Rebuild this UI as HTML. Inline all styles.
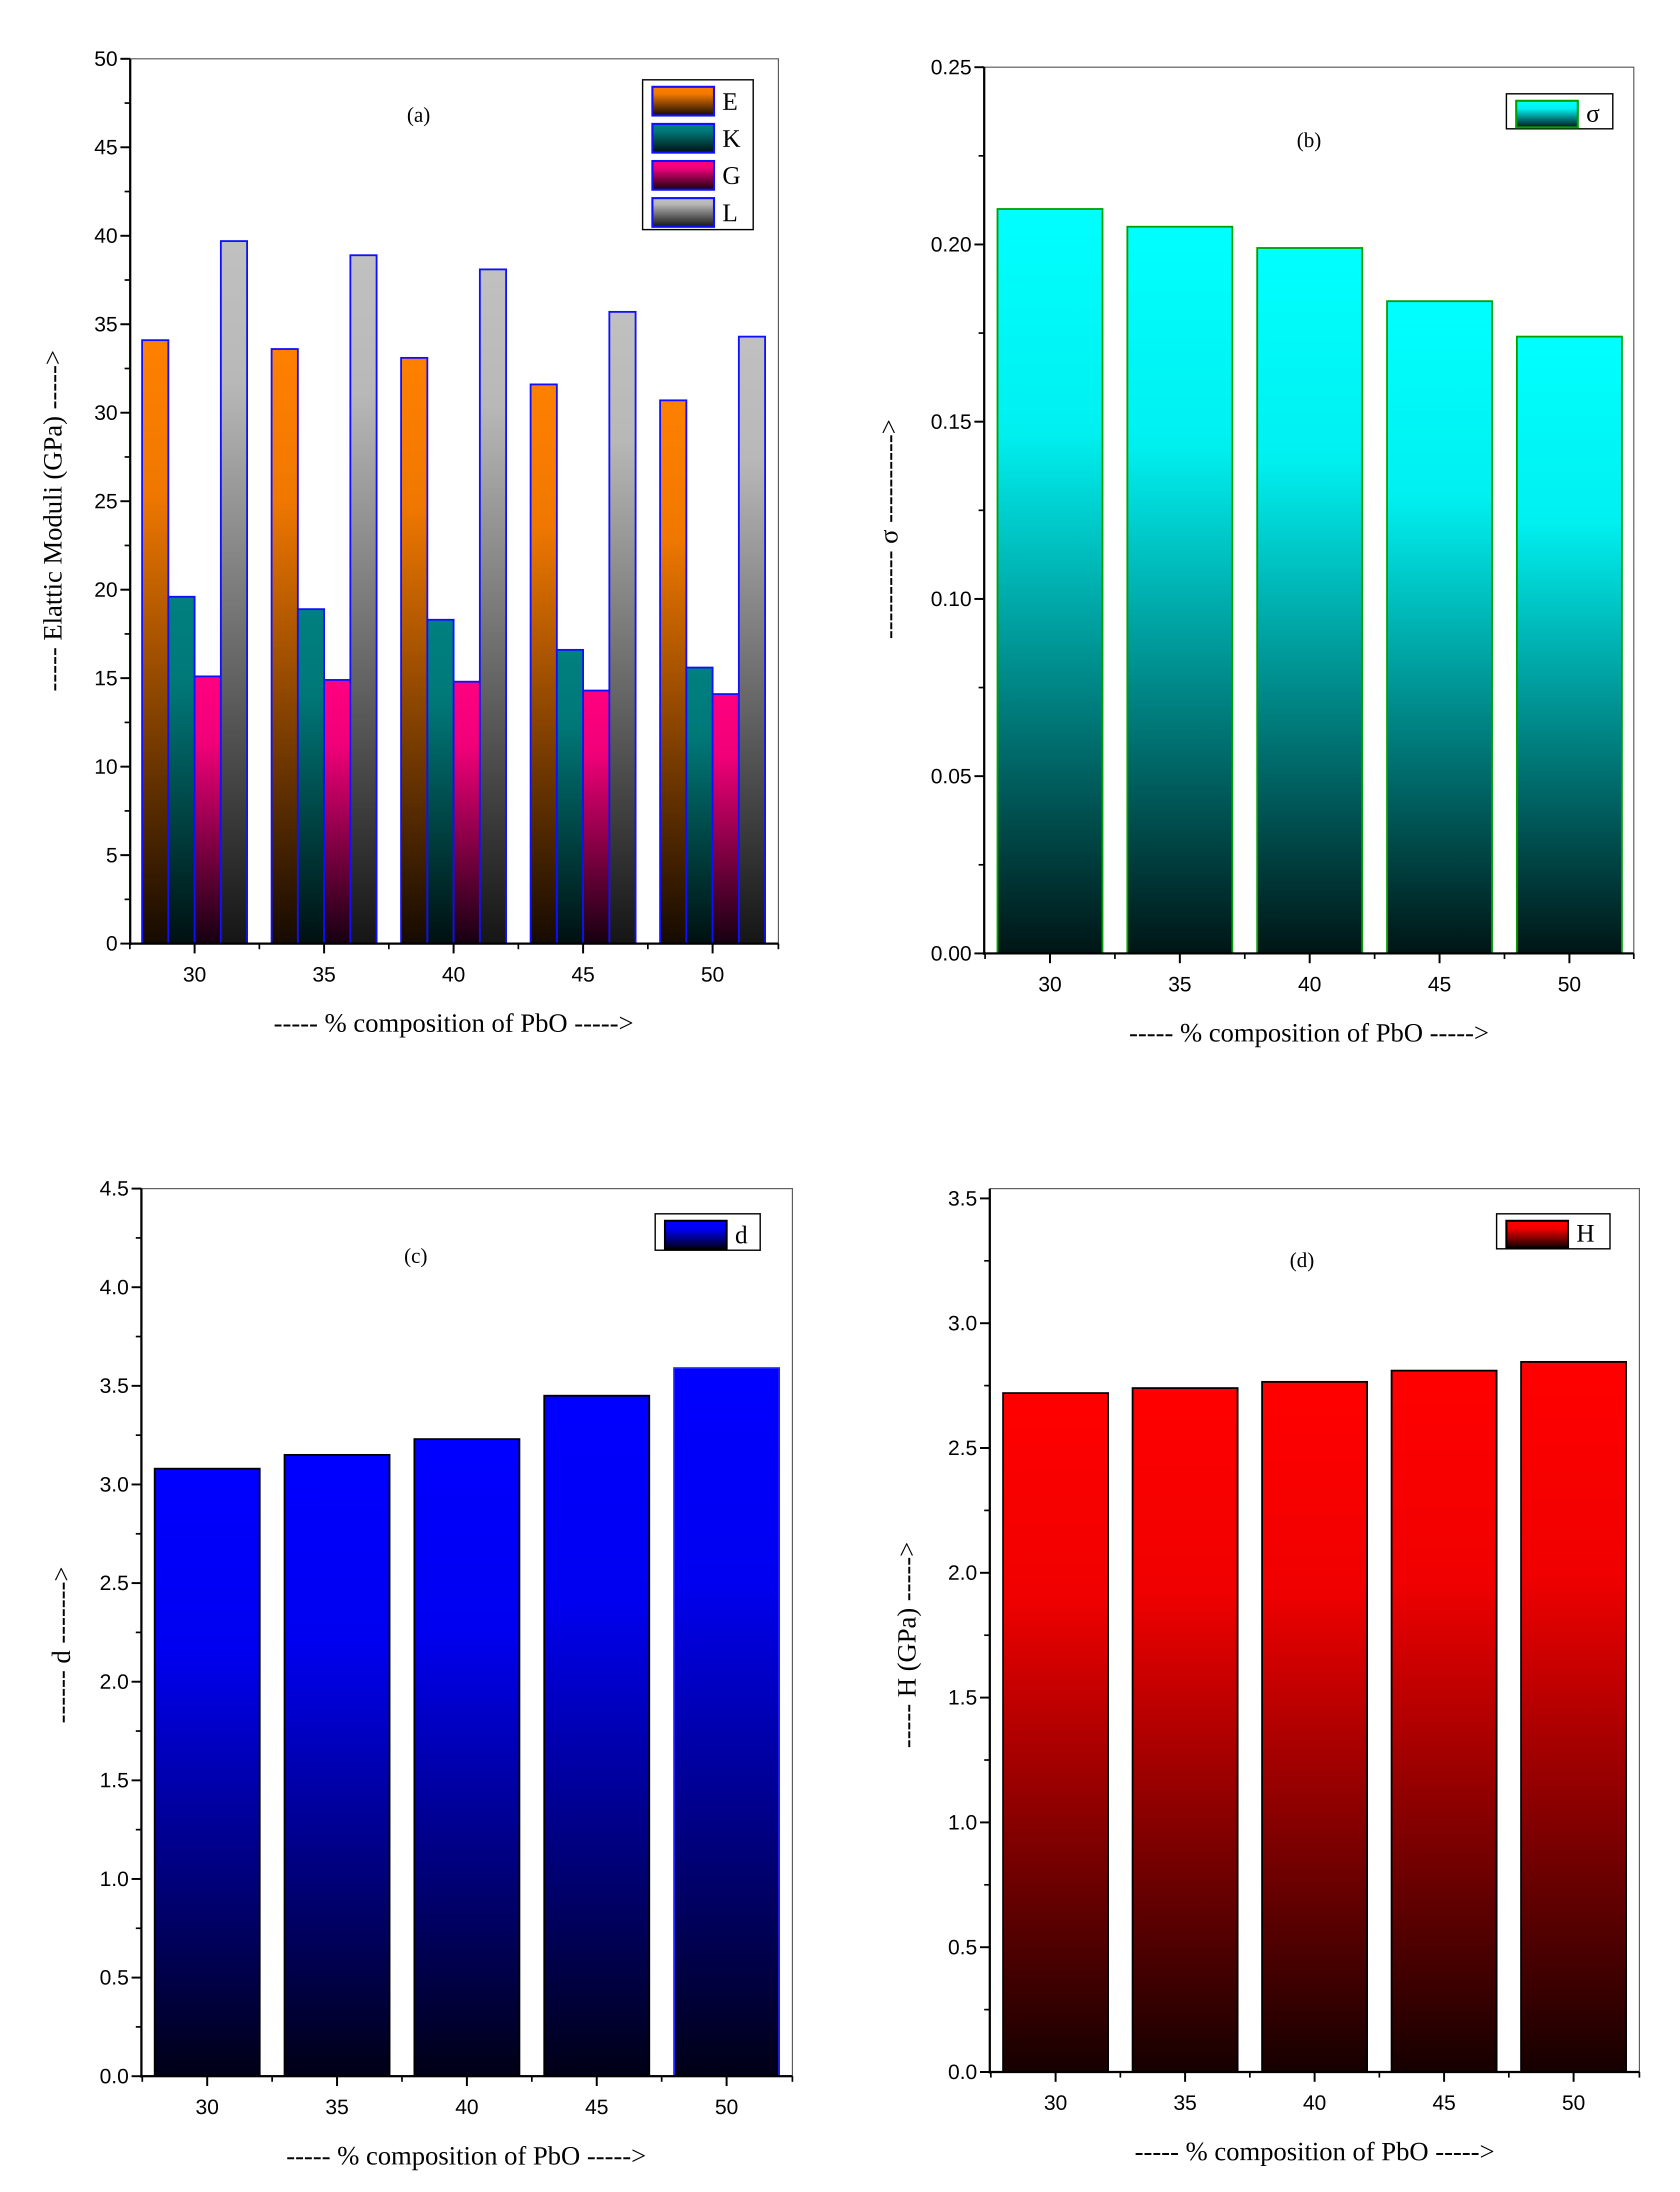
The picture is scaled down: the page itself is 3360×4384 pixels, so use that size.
<!DOCTYPE html>
<html><head><meta charset="utf-8">
<style>html,body{margin:0;padding:0;background:#fff}svg{display:block}</style>
</head><body>
<svg id="root" xmlns="http://www.w3.org/2000/svg" width="3360" height="4384" viewBox="0 0 1200 1565.7">
<defs>
<linearGradient id="gE" x1="0" y1="0" x2="0" y2="1"><stop offset="0" stop-color="#ff8000"/><stop offset="0.25" stop-color="#f07800"/><stop offset="1" stop-color="#150a00"/></linearGradient>
<linearGradient id="gK" x1="0" y1="0" x2="0" y2="1"><stop offset="0" stop-color="#008080"/><stop offset="0.25" stop-color="#007878"/><stop offset="1" stop-color="#001010"/></linearGradient>
<linearGradient id="gG" x1="0" y1="0" x2="0" y2="1"><stop offset="0" stop-color="#ff0080"/><stop offset="0.25" stop-color="#f00078"/><stop offset="1" stop-color="#150010"/></linearGradient>
<linearGradient id="gL" x1="0" y1="0" x2="0" y2="1"><stop offset="0" stop-color="#c0c0c0"/><stop offset="0.2" stop-color="#b8b8b8"/><stop offset="1" stop-color="#151515"/></linearGradient>
<linearGradient id="gS" x1="0" y1="0" x2="0" y2="1"><stop offset="0" stop-color="#00ffff"/><stop offset="0.3" stop-color="#00f0f0"/><stop offset="1" stop-color="#001515"/></linearGradient>
<linearGradient id="gD" x1="0" y1="0" x2="0" y2="1"><stop offset="0" stop-color="#0000ff"/><stop offset="0.3" stop-color="#0000f0"/><stop offset="1" stop-color="#000015"/></linearGradient>
<linearGradient id="gH" x1="0" y1="0" x2="0" y2="1"><stop offset="0" stop-color="#ff0000"/><stop offset="0.3" stop-color="#f00000"/><stop offset="1" stop-color="#150000"/></linearGradient>
</defs>
</svg>
<script>
const categories = [30, 35, 40, 45, 50];
const seriesE = [34.1, 33.6, 33.1, 31.6, 30.7];
const seriesK = [19.6, 18.9, 18.3, 16.6, 15.6];
const seriesG = [15.1, 14.9, 14.8, 14.3, 14.1];
const seriesL = [39.7, 38.9, 38.1, 35.7, 34.3];
const seriesSigma = [0.21, 0.205, 0.199, 0.184, 0.174];
const seriesD = [3.08, 3.15, 3.23, 3.45, 3.59];
const seriesH = [2.72, 2.74, 2.765, 2.81, 2.845];
const ticksA = [0, 5, 10, 15, 20, 25, 30, 35, 40, 45, 50];
const ticksB = [0, 0.05, 0.10, 0.15, 0.20, 0.25];
const ticksC = [0, 0.5, 1.0, 1.5, 2.0, 2.5, 3.0, 3.5, 4.0, 4.5];
const ticksD = [0, 0.5, 1.0, 1.5, 2.0, 2.5, 3.0, 3.5];

const NS = 'http://www.w3.org/2000/svg';
const root = document.getElementById('root');
const SERIF = 'font-family:"Liberation Serif",serif';
const SANS = 'font-family:"Liberation Sans",sans-serif';
function mk(tag, attrs, parent, text) {
  const e = document.createElementNS(NS, tag);
  for (const k in attrs) e.setAttribute(k, attrs[k]);
  if (text !== undefined) e.textContent = text;
  (parent || root).appendChild(e);
  return e;
}

function panel(cfg) {
  const g = mk('g', {});
  
  
  const {x0, x1, yTop, y0, yMaxVal, ymax, ticks, dec} = cfg;
  const ys = v => y0 - (v / ymax) * (y0 - yMaxVal);
  const c0 = cfg.c30, c1 = cfg.c50;
  const xs = c => c0 + (c - 30) / 20 * (c1 - c0);
  const step = (c1 - c0) / 4;
  const nS = cfg.series.length;
  const gw = cfg.groupW;
  cfg.series.forEach((s, si) => {
    const bw = gw / nS;
    s.vals.forEach((v, i) => {
      const bx = xs(categories[i]) - gw / 2 + si * bw;
      const r = mk('rect', {x: bx, y: ys(v), width: bw, height: y0 - ys(v), fill: 'url(#' + s.grad + ')', stroke: (s.strokes ? s.strokes[i] : s.stroke), 'stroke-width': 1.3}, g);
      
      
    });
  });
  const fr = mk('polyline', {points: `${x0},${yTop} ${x1},${yTop} ${x1},${y0}`, fill: 'none', stroke: '#555', 'stroke-width': 0.8}, g);
  
  
  const ya = mk('line', {x1: x0, y1: yTop, x2: x0, y2: y0 + 1, stroke: '#000', 'stroke-width': 1.6}, g);
  
  
  ticks.forEach((t, i) => {
    mk('line', {x1: x0 - 7, y1: ys(t), x2: x0, y2: ys(t), stroke: '#000', 'stroke-width': 1.4}, g);
    if (i < ticks.length - 1) {
      const m = (t + ticks[i + 1]) / 2;
      mk('line', {x1: x0 - 4, y1: ys(m), x2: x0, y2: ys(m), stroke: '#000', 'stroke-width': 1.2}, g);
    }
    const lb = mk('text', {x: x0 - 9, y: ys(t) + 5, 'text-anchor': 'end', style: SANS + ';font-size:15px'}, g, t.toFixed(dec));
    
    
  });
  const xa = mk('line', {x1: x0, y1: y0, x2: x1, y2: y0, stroke: '#000', 'stroke-width': 1.6}, g);
  
  
  categories.forEach((c, i) => {
    mk('line', {x1: xs(c), y1: y0, x2: xs(c), y2: y0 + 7, stroke: '#000', 'stroke-width': 1.4}, g);
    const lb = mk('text', {x: xs(c), y: y0 + 27, 'text-anchor': 'middle', style: SANS + ';font-size:15px'}, g, String(c));
    
    
  });
  for (let i = 0; i <= 4; i++) {
    const mx = xs(categories[0]) - step / 2 + i * step;
    mk('line', {x1: mx, y1: y0, x2: mx, y2: y0 + 4, stroke: '#000', 'stroke-width': 1.2}, g);
  }
  mk('line', {x1: x1, y1: y0, x2: x1, y2: y0 + 4, stroke: '#000', 'stroke-width': 1.2}, g);
  const xt = mk('text', {x: cfg.xtX, y: cfg.xtY, 'text-anchor': 'middle', style: SERIF + ';font-size:19px'}, g, '----- % composition of PbO ----->');
  
  
  const yt = mk('text', {x: 0, y: 0, 'text-anchor': 'middle', style: SERIF + ';font-size:19px', transform: `translate(${cfg.ytX},${cfg.ytY}) rotate(-90)`}, g, cfg.ytText);
  
  
  const pl = mk('text', {x: cfg.plX, y: cfg.plY, 'text-anchor': 'middle', style: SERIF + ';font-size:15px'}, g, cfg.plText);
  
  
  const L = cfg.legend;
  const lg = mk('g', {}, g);
  
  
  mk('rect', {x: L.x, y: L.y, width: L.w, height: L.h, fill: '#fff', stroke: '#000', 'stroke-width': 1}, lg);
  cfg.series.forEach((s, si) => {
    const ry = L.y + 5 + si * L.row;
    const sw = mk('rect', {x: L.x + 7, y: ry, width: 44, height: L.row - 6, fill: 'url(#' + s.grad + ')', stroke: s.legStroke || s.stroke, 'stroke-width': 1.5}, lg);
    
    
    const t = mk('text', {x: L.x + 57, y: ry + L.row - 10, style: SERIF + ';font-size:18px'}, lg, s.label);
    
    
  });
}

panel({name: 'panel-a-elastic-moduli', x0: 93, x1: 556, yTop: 42, y0: 674, yMaxVal: 42, ymax: 50, ticks: ticksA, dec: 0,
  c30: 139, c50: 509, groupW: 75,
  series: [
    {key: 'E', label: 'E', vals: seriesE, grad: 'gE', stroke: '#1010ff'},
    {key: 'K', label: 'K', vals: seriesK, grad: 'gK', stroke: '#1010ff'},
    {key: 'G', label: 'G', vals: seriesG, grad: 'gG', stroke: '#1010ff'},
    {key: 'L', label: 'L', vals: seriesL, grad: 'gL', stroke: '#1010ff'}],
  xtX: 324, xtY: 737, ytX: 44, ytY: 372, ytText: '----- Elattic Moduli (GPa) ----->', plX: 299, plY: 87, plText: '(a)',
  legend: {x: 459, y: 57, w: 79, h: 107, row: 26.5}});

panel({name: 'panel-b-poisson-ratio', x0: 703, x1: 1167, yTop: 48, y0: 681, yMaxVal: 48, ymax: 0.25, ticks: ticksB, dec: 2,
  c30: 750, c50: 1121, groupW: 75,
  series: [{key: 'sigma', label: 'σ', vals: seriesSigma, grad: 'gS', stroke: '#00a000'}],
  xtX: 935, xtY: 744, ytX: 641, ytY: 378, ytText: '---------- σ ---------->', plX: 935, plY: 105, plText: '(b)',
  legend: {x: 1076, y: 67, w: 76, h: 25, row: 25}});

panel({name: 'panel-c-d', x0: 101, x1: 566, yTop: 849, y0: 1483, yMaxVal: 849, ymax: 4.5, ticks: ticksC, dec: 1,
  c30: 148, c50: 519, groupW: 75,
  series: [{key: 'd', label: 'd', vals: seriesD, grad: 'gD', stroke: '#000', strokes: ['#000', '#000', '#000', '#000', '#2020ff']}],
  xtX: 333, xtY: 1546, ytX: 50, ytY: 1175, ytText: '------ d ------->', plX: 297, plY: 902, plText: '(c)',
  legend: {x: 468, y: 867, w: 75, h: 26, row: 26}});

panel({name: 'panel-d-hardness', x0: 707, x1: 1171, yTop: 849, y0: 1480, yMaxVal: 856, ymax: 3.5, ticks: ticksD, dec: 1,
  c30: 754, c50: 1124, groupW: 75,
  series: [{key: 'H', label: 'H', vals: seriesH, grad: 'gH', stroke: '#000'}],
  xtX: 939, xtY: 1543, ytX: 654, ytY: 1175, ytText: '----- H (GPa) ----->', plX: 930, plY: 905, plText: '(d)',
  legend: {x: 1069, y: 867, w: 81, h: 25, row: 25}});
</script>
</body></html>
